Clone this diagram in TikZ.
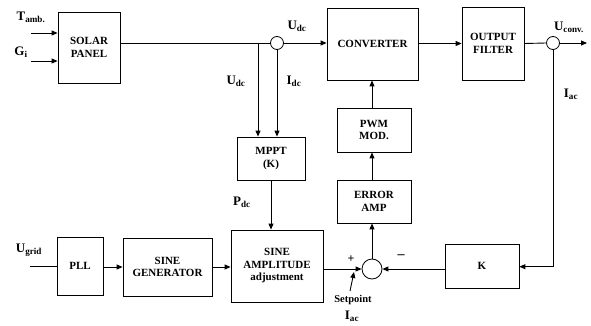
\documentclass[tikz,border=0pt]{standalone}
\usepackage{fontspec}
\setmainfont{Liberation Serif}
\usetikzlibrary{arrows.meta}
\newcommand{\sig}[2]{#1\textsubscript{#2}}

\begin{document}
\begin{tikzpicture}[
		x=1pt, y=-1pt,
		box/.style={
			draw,
			line width=0.8pt,
			inner sep=1pt,
			align=center,
			font=\bfseries\fontsize{11}{12.5}\selectfont
		},
		junction/.style={draw, circle, line width=0.8pt, inner sep=0pt, minimum size=13pt},
		summer/.style={draw, circle, line width=0.8pt, inner sep=0pt, minimum size=20pt},
		lbl/.style={font=\bfseries\fontsize{13}{14}\selectfont, inner sep=0pt},
		small/.style={font=\bfseries\fontsize{10.5}{11}\selectfont, inner sep=0pt},
		wire/.style={line width=0.9pt},
		arrow/.style={-{Triangle[length=6pt, width=5pt]}, line width=0.9pt}
		]
		\useasboundingbox (0,0) rectangle (591,326);
		
		% blocks
		\node[box, minimum width=62pt, minimum height=71pt] (solar) at (89,47.5) {SOLAR\\PANEL};
		\node[box, minimum width=91pt, minimum height=72pt] (conv) at (372.5,44) {CONVERTER};
		\node[box, minimum width=62pt, minimum height=73pt] (filter) at (493,43.5) {OUTPUT\\FILTER};
		\node[box, minimum width=68pt, minimum height=43pt] (mppt) at (271,158.5) {MPPT\\(K)};
		\node[box, minimum width=74pt, minimum height=44pt] (pwm) at (374,130) {PWM\\MOD.};
		\node[box, minimum width=74pt, minimum height=43pt] (err) at (374,201.5) {ERROR\\AMP};
		\node[box, minimum width=74pt, minimum height=44pt] (kgain) at (482,266) {K};
		\node[box, minimum width=92pt, minimum height=72pt] (amp) at (277,266) {SINE\\AMPLITUDE\\adjustment};
		\node[box, minimum width=46pt, minimum height=58pt] (pll) at (80,266) {PLL};
		\node[box, minimum width=89pt, minimum height=58pt] (gen) at (167.5,267) {SINE\\GENERATOR};
		
		% sensing points and summing junction
		\node[junction] (idc) at (277,43) {};
		\node[junction] (iac) at (553,43) {};
		\node[summer] (sum) at (372,269) {};
		
		% free ends
		\coordinate (tin) at (31,33);
		\coordinate (gin) at (31,61);
		\coordinate (grid) at (30,266);
		\coordinate (out) at (587,43);
		\coordinate (udctap) at (258,43);
		\coordinate (iacturn) at (553,266.7);
		\coordinate (spfrom) at (350,291);
		\coordinate (spto) at (354,272);
		
		% inputs
		\draw[arrow] (tin) -- (solar.west |- tin);
		\draw[arrow] (gin) -- (solar.west |- gin);
		\draw[wire] (grid) -- (pll.west |- grid);
		
		% power path
		\draw[wire] (solar.east |- idc) -- (idc.west);
		\draw[arrow] (idc.east) -- (conv.west |- idc);
		\draw[arrow] (conv.east |- filter) -- (filter.west);
		\draw[wire] (filter.east) -- (iac.west);
		\draw[arrow] (iac.east) -- (out);
		
		% measurements
		\draw[arrow] (udctap) -- (mppt.north -| udctap);
		\draw[arrow] (idc.south) -- (mppt.north -| idc);
		\draw[arrow] (iac.south) -- (iacturn) -- (kgain.east |- iacturn);
		
		% control path
		\draw[arrow] (mppt.south) -- (amp.north -| mppt);
		\draw[arrow] (pll.east |- gen) -- (gen.west);
		\draw[arrow] (gen.east) -- (amp.west |- gen);
		\draw[arrow] (amp.east |- sum) -- (sum.west);
		\draw[arrow] (kgain.west |- sum) -- (sum.east);
		\draw[arrow] (sum.north) -- (err.south -| sum);
		\draw[arrow] (err.north -| sum) -- (pwm.south -| sum);
		\draw[arrow] (pwm.north -| sum) -- (conv.south -| sum);
		\draw[arrow] (spfrom) -- (spto);
		
		% labels
		\node[lbl] (tamb) at (31,17) {\sig{T}{amb.}};
		\node[lbl] (gi) at (21,52) {\sig{G}{i}};
		\node[lbl] (udctop) at (297,26) {\sig{U}{dc}};
		\node[lbl] (udcleft) at (236,81) {\sig{U}{dc}};
		\node[lbl] (idclbl) at (294,81) {\sig{I}{dc}};
		\node[lbl] (uconv) at (569,27) {\sig{U}{conv.}};
		\node[lbl] (iaclbl) at (571,94) {\sig{I}{ac}};
		\node[lbl] (pdc) at (242,202) {\sig{P}{dc}};
		\node[lbl] (ugrid) at (29,250) {\sig{U}{grid}};
		\node[small, font=\bfseries\fontsize{12}{12}\selectfont] (plus) at (351,259) {+};
		\node[small, font=\bfseries\fontsize{14}{14}\selectfont] (minus) at (401,257) {\textendash};
		\node[small] (setpoint) at (353,300) {Setpoint};
		\node[lbl] (iacsp) at (352,316) {\sig{I}{ac}};
		
	\end{tikzpicture}
\end{document}
